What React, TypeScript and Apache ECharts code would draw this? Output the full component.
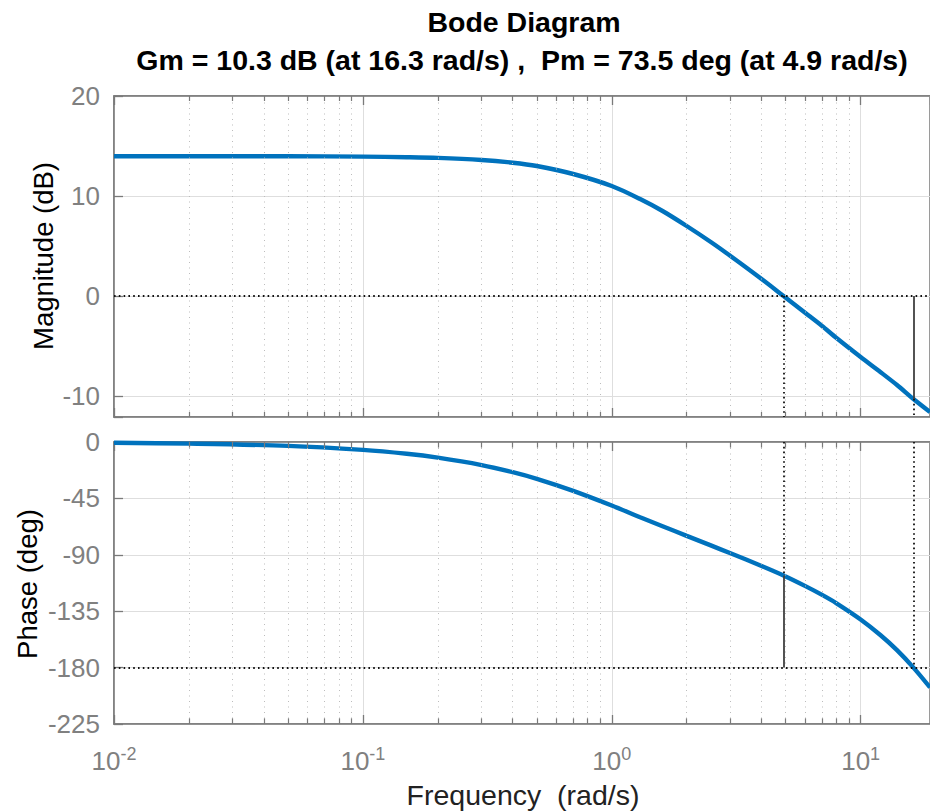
import React, { useEffect, useRef } from "react";
import * as echarts from "echarts";

const freq = [0.01, 0.02, 0.05, 0.1, 0.15, 0.2, 0.3, 0.4, 0.5, 0.7, 1, 1.3, 1.6, 2, 2.5, 3, 4, 4.9, 6, 7, 8, 10, 12, 14, 16.3, 19];
// Magnitude (dB)
const magDb = [13.98, 13.98, 13.97, 13.94, 13.88, 13.81, 13.6, 13.33, 13.0, 12.2, 11.0, 9.7, 8.5, 7.0, 5.4, 4.0, 1.7, 0.0, -1.7, -3.0, -4.2, -6.1, -7.6, -8.9, -10.3, -11.6];
// Phase (deg)
const phaseDeg = [-0.6, -1.3, -3.1, -6.3, -9.4, -12.5, -18.4, -24.1, -29.4, -39.0, -50.7, -60.0, -67.2, -74.9, -82.5, -88.8, -98.9, -106.5, -115.0, -122.0, -128.7, -141.6, -154.0, -166.1, -180.0, -195.8];

// Stability margins
const gmFreq = 16.3;
const gmMagAtFreq = -10.3;
const pmFreq = 4.9;
const pmPhaseAtFreq = -106.5;

const xMin = 0.01;
const xMax = 19;
const magMin = -12.1;
const magMax = 20;
const phaseMin = -225;
const phaseMax = 0;
const phaseInterval = 45;

const titleText = "Bode Diagram";
const subtitleText = "Gm = 10.3 dB (at 16.3 rad/s) ,  Pm = 73.5 deg (at 4.9 rad/s)";
const magLabel = "Magnitude (dB)";
const phaseLabel = "Phase (deg)";
const freqLabel = "Frequency  (rad/s)";

const FONT = '"Liberation Sans", Arial, Helvetica, sans-serif';
const TICK_COLOR = "#7a7a7a";
const LABEL_COLOR = "#808080";
const GRID_COLOR = "#dedede";
const MINOR_COLOR = "#bcbcbc";
const CURVE_COLOR = "#0072BD";

// minor (2..9 x decade) frequencies inside range
const minorFreqs: number[] = [];
for (let d = -2; d <= 1; d++) {
  for (let m = 2; m <= 9; m++) {
    const f = m * Math.pow(10, d);
    if (f > xMin && f < xMax) minorFreqs.push(Number(f.toPrecision(6)));
  }
}

function minorLines(yMin: number, yMax: number, tickLen: number) {
  const out: any[] = [];
  for (const f of minorFreqs) {
    out.push([
      { coord: [f, yMin], lineStyle: { color: MINOR_COLOR, width: 1, type: [1, 4.5] } },
      { coord: [f, yMax] },
    ]);
    out.push([
      { coord: [f, yMin], lineStyle: { color: TICK_COLOR, width: 1.2, type: "solid" } },
      { coord: [f, yMin + tickLen] },
    ]);
    out.push([
      { coord: [f, yMax], lineStyle: { color: TICK_COLOR, width: 1.2, type: "solid" } },
      { coord: [f, yMax - tickLen] },
    ]);
  }
  return out;
}

const DOT = { color: "#111", width: 1.8, type: [1.6, 3.2] as any };
const SOLID = { color: "#404040", width: 1.8, type: "solid" as any };

export default function App() {
  const ref = useRef<HTMLDivElement>(null);
  useEffect(() => {
    document.body.style.margin = "0";
    if (!ref.current) return;
    const chart = echarts.init(ref.current, null, { renderer: "svg" });

    const magData = freq.map((f, i) => [f, magDb[i]]);
    const phaseData = freq.map((f, i) => [f, phaseDeg[i]]);

    const xBase = (gridIndex: number, position: "top" | "bottom", showLabel: boolean) => ({
      type: "log" as const,
      logBase: 10,
      gridIndex,
      position,
      min: xMin,
      max: xMax,
      splitNumber: 3,
      axisLine: { show: true, onZero: false, lineStyle: { color: TICK_COLOR, width: 1.5 } },
      axisTick: { show: true, inside: true, length: 9, lineStyle: { color: TICK_COLOR, width: 1.3 } },
      splitLine: { show: position === "bottom", lineStyle: { color: GRID_COLOR, width: 1 } },
      axisLabel: showLabel
        ? {
            show: true,
            margin: 21,
            formatter: (v: number) => {
              const e = Math.log10(v);
              const r = Math.round(e);
              if (Math.abs(e - r) > 1e-6) return "";
              return `{b|10}{s|${r}}`;
            },
            rich: {
              b: { fontSize: 26, fontFamily: FONT, color: LABEL_COLOR, verticalAlign: "bottom" },
              s: { fontSize: 18, fontFamily: FONT, color: LABEL_COLOR, verticalAlign: "bottom", padding: [0, 0, 11, 0] },
            },
            showMaxLabel: false,
          }
        : { show: false },
    });

    const option: any = {
      animation: false,
      grid: [
        { left: 114, top: 96, width: 816, height: 321, show: true, borderColor: TICK_COLOR, borderWidth: 1.5, backgroundColor: "transparent" },
        { left: 114, top: 442, width: 816, height: 282, show: true, borderColor: TICK_COLOR, borderWidth: 1.5, backgroundColor: "transparent" },
      ],
      xAxis: [xBase(0, "bottom", false), xBase(0, "top", false), xBase(1, "bottom", true), xBase(1, "top", false)],
      yAxis: [
        {
          type: "value",
          gridIndex: 0,
          min: magMin,
          max: magMax,
          splitNumber: 3,
          axisLine: { show: true, lineStyle: { color: TICK_COLOR, width: 1.5 } },
          axisTick: { show: true, inside: true, length: 9, lineStyle: { color: TICK_COLOR, width: 1.3 } },
          splitLine: { show: true, lineStyle: { color: GRID_COLOR, width: 1 } },
          axisLabel: {
            margin: 14,
            fontSize: 26,
            fontFamily: FONT,
            color: LABEL_COLOR,
            formatter: (v: number) => (Math.abs(v % 10) < 1e-9 ? String(v) : ""),
          },
        },
        {
          type: "value",
          gridIndex: 1,
          min: phaseMin,
          max: phaseMax,
          interval: phaseInterval,
          axisLine: { show: true, lineStyle: { color: TICK_COLOR, width: 1.5 } },
          axisTick: { show: true, inside: true, length: 9, lineStyle: { color: TICK_COLOR, width: 1.3 } },
          splitLine: { show: true, lineStyle: { color: GRID_COLOR, width: 1 } },
          axisLabel: { margin: 14, fontSize: 26, fontFamily: FONT, color: LABEL_COLOR },
        },
      ],
      series: [
        // minor grid and ticks (top panel)
        {
          type: "line",
          xAxisIndex: 0,
          yAxisIndex: 0,
          data: magData,
          lineStyle: { opacity: 0 },
          showSymbol: false,
          silent: true,
          z: 1,
          markLine: { silent: true, symbol: ["none", "none"], label: { show: false }, data: minorLines(magMin, magMax, 0.5) },
        },
        // minor grid and ticks (bottom panel)
        {
          type: "line",
          xAxisIndex: 2,
          yAxisIndex: 1,
          data: phaseData,
          lineStyle: { opacity: 0 },
          showSymbol: false,
          silent: true,
          z: 1,
          markLine: { silent: true, symbol: ["none", "none"], label: { show: false }, data: minorLines(phaseMin, phaseMax, 4.5) },
        },
        {
          name: "Magnitude",
          type: "line",
          xAxisIndex: 0,
          yAxisIndex: 0,
          data: magData,
          smooth: 0.3,
          showSymbol: false,
          lineStyle: { color: CURVE_COLOR, width: 4.4 },
          z: 3,
          markLine: {
            silent: true,
            symbol: ["none", "none"],
            label: { show: false },
            data: [
              [{ coord: [xMin, 0], lineStyle: DOT }, { coord: [xMax, 0] }],
              [{ coord: [pmFreq, 0], lineStyle: DOT }, { coord: [pmFreq, magMin] }],
              [{ coord: [gmFreq, 0], lineStyle: SOLID }, { coord: [gmFreq, gmMagAtFreq] }],
              [{ coord: [gmFreq, gmMagAtFreq], lineStyle: DOT }, { coord: [gmFreq, magMin] }],
            ],
          },
        },
        {
          name: "Phase",
          type: "line",
          xAxisIndex: 2,
          yAxisIndex: 1,
          data: phaseData,
          smooth: 0.3,
          showSymbol: false,
          lineStyle: { color: CURVE_COLOR, width: 4.4 },
          z: 3,
          markLine: {
            silent: true,
            symbol: ["none", "none"],
            label: { show: false },
            data: [
              [{ coord: [xMin, -180], lineStyle: DOT }, { coord: [xMax, -180] }],
              [{ coord: [pmFreq, phaseMax], lineStyle: DOT }, { coord: [pmFreq, pmPhaseAtFreq] }],
              [{ coord: [pmFreq, pmPhaseAtFreq], lineStyle: SOLID }, { coord: [pmFreq, -180] }],
              [{ coord: [gmFreq, phaseMax], lineStyle: DOT }, { coord: [gmFreq, -180] }],
            ],
          },
        },
      ],
      graphic: [
        {
          type: "text",
          x: 524,
          y: 22,
          style: { text: titleText, fontSize: 28.5, fontWeight: "bold", fontFamily: FONT, fill: "#000", align: "center", verticalAlign: "middle" },
        },
        {
          type: "text",
          x: 522,
          y: 60,
          style: { text: subtitleText, fontSize: 28.5, fontWeight: "bold", fontFamily: FONT, fill: "#000", align: "center", verticalAlign: "middle" },
        },
        {
          type: "text",
          x: 43,
          y: 256,
          rotation: Math.PI / 2,
          style: { text: magLabel, fontSize: 27.5, fontFamily: FONT, fill: "#000", align: "center", verticalAlign: "middle" },
        },
        {
          type: "text",
          x: 27,
          y: 584,
          rotation: Math.PI / 2,
          style: { text: phaseLabel, fontSize: 27.5, fontFamily: FONT, fill: "#000", align: "center", verticalAlign: "middle" },
        },
        {
          type: "text",
          x: 523,
          y: 795,
          style: { text: freqLabel, fontSize: 28.5, fontFamily: FONT, fill: "#222", align: "center", verticalAlign: "middle" },
        },
      ],
    };

    chart.setOption(option);
    return () => chart.dispose();
  }, []);

  return <div ref={ref} style={{ width: 930, height: 811, position: "absolute", left: 0, top: 0 }} />;
}
